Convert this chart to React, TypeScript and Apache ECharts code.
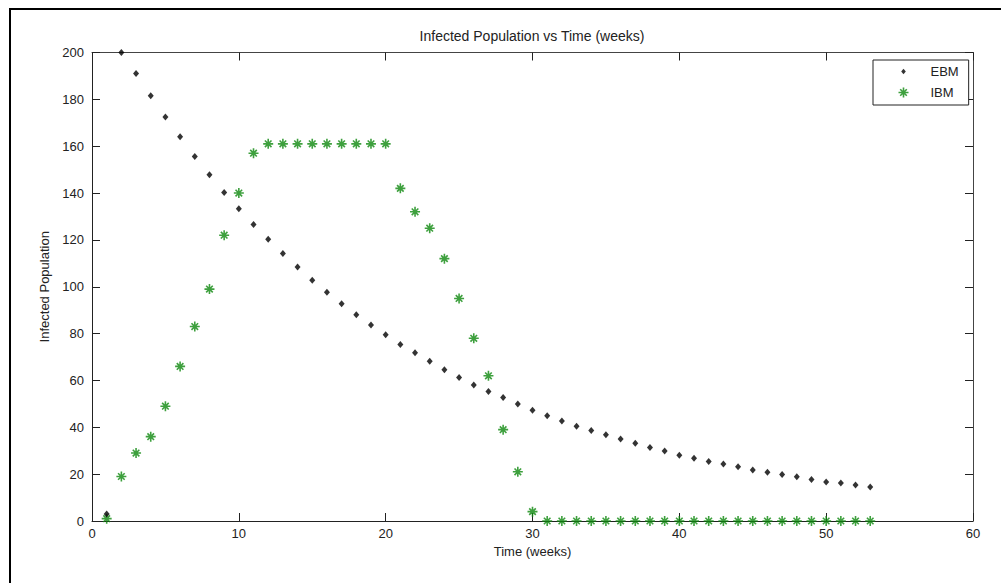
import { useEffect, useRef } from "react";
import * as echarts from "echarts";

// Weeks since the start of the outbreak
const weeks = [
  1, 2, 3, 4, 5, 6, 7, 8, 9, 10, 11, 12, 13, 14, 15, 16, 17, 18, 19, 20,
  21, 22, 23, 24, 25, 26, 27, 28, 29, 30, 31, 32, 33, 34, 35, 36, 37, 38, 39, 40,
  41, 42, 43, 44, 45, 46, 47, 48, 49, 50, 51, 52, 53,
];

// Equation-based model (EBM)
const ebmInfected = [
  3, 200, 191, 181.5, 172.5, 164, 155.6, 147.8, 140.2, 133.3,
  126.6, 120.3, 114.2, 108.4, 102.8, 97.6, 92.7, 88.1, 83.7, 79.5,
  75.4, 71.8, 68.2, 64.6, 61.3, 58.1, 55.3, 52.7, 49.9, 47.3,
  44.9, 42.7, 40.5, 38.6, 36.8, 35.0, 33.2, 31.4, 29.9, 28.1,
  26.8, 25.4, 24.3, 23.2, 21.8, 20.8, 19.9, 18.9, 17.7, 16.7,
  16.2, 15.4, 14.5,
];

// Individual-based model (IBM)
const ibmInfected = [
  1, 19, 29, 36, 49, 66, 83, 99, 122, 140,
  157, 161, 161, 161, 161, 161, 161, 161, 161, 161,
  142, 132, 125, 112, 95, 78, 62, 39, 21, 4,
  0, 0, 0, 0, 0, 0, 0, 0, 0, 0,
  0, 0, 0, 0, 0, 0, 0, 0, 0, 0,
  0, 0, 0,
];

const FONT = "'Liberation Sans', Arial, sans-serif";
const TEXT = "#222";
const GREEN = "#0e880e";

const STAR = "path://M5,0L5,10M0,5L10,5M1.7,1.7L8.3,8.3M1.7,8.3L8.3,1.7";
const DOT_ICON = "path://M0,0M10,10M5,2.3L7.3,5L5,7.7L2.7,5Z";

export default function App() {
  const ref = useRef<HTMLDivElement>(null);

  useEffect(() => {
    if (!ref.current) return;
    const chart = echarts.init(ref.current, null, { renderer: "svg" });

    const axisBase = {
      min: 0,
      splitLine: { show: false },
      axisLine: { show: true, onZero: false, lineStyle: { color: TEXT, width: 1 } },
      axisTick: { show: true, inside: true, length: 8, lineStyle: { color: TEXT } },
    };
    const frameLine = { show: true, onZero: false, lineStyle: { color: "#444", width: 1 } };

    chart.setOption({
      animation: false,
      backgroundColor: "#fff",
      title: {
        text: "Infected Population vs Time (weeks)",
        left: 532,
        top: 29,
        textAlign: "center",
        padding: 0,
        textStyle: { fontFamily: FONT, fontSize: 14, fontWeight: "normal", color: TEXT },
      },
      grid: { left: 92, right: 28, top: 52.5, bottom: 62, containLabel: false },
      legend: {
        orient: "vertical",
        left: 873,
        top: 60,
        padding: [5, 10, 5, 23],
        itemWidth: 44,
        itemHeight: 10,
        itemGap: 7,
        borderColor: TEXT,
        borderWidth: 1,
        backgroundColor: "#fff",
        textStyle: { fontFamily: FONT, fontSize: 13, color: TEXT, padding: [0, 0, 0, 0] },
        data: [
          { name: "EBM", icon: DOT_ICON, itemStyle: { color: "#000", borderWidth: 0 } },
          { name: "IBM", icon: STAR, itemStyle: { color: "none", borderColor: GREEN, borderWidth: 1.6 } },
        ],
      },
      xAxis: [
        {
          ...axisBase,
          type: "value",
          max: 60,
          interval: 10,
          position: "bottom",
          name: "Time (weeks)",
          nameLocation: "middle",
          nameGap: 24,
          nameTextStyle: { fontFamily: FONT, fontSize: 13, color: TEXT },
          axisLabel: { fontFamily: FONT, fontSize: 13, color: TEXT, margin: 6 },
        },
        {
          ...axisBase,
          type: "value",
          max: 60,
          interval: 10,
          position: "top",
          axisLine: frameLine,
          axisLabel: { show: false },
        },
      ],
      yAxis: [
        {
          ...axisBase,
          type: "value",
          max: 200,
          interval: 20,
          position: "left",
          name: "Infected Population",
          nameLocation: "middle",
          nameGap: 36,
          nameTextStyle: { fontFamily: FONT, fontSize: 13, color: TEXT },
          axisLabel: { fontFamily: FONT, fontSize: 13, color: TEXT, margin: 8 },
        },
        {
          ...axisBase,
          type: "value",
          max: 200,
          interval: 20,
          position: "right",
          axisLine: frameLine,
          axisLabel: { show: false },
        },
      ],
      graphic: [
        { type: "line", shape: { x1: 9, y1: 9, x2: 1001, y2: 9 }, style: { stroke: "#000", lineWidth: 2 } },
        { type: "line", shape: { x1: 10, y1: 9, x2: 10, y2: 583 }, style: { stroke: "#000", lineWidth: 2 } },
      ],
      series: [
        {
          name: "EBM",
          type: "scatter",
          xAxisIndex: 0,
          yAxisIndex: 0,
          symbol: "diamond",
          symbolSize: [6, 7],
          itemStyle: { color: "#000" },
          data: weeks.map((w, i) => [w, ebmInfected[i]]),
          z: 3,
        },
        {
          name: "IBM",
          type: "scatter",
          xAxisIndex: 0,
          yAxisIndex: 0,
          symbol: STAR,
          symbolSize: 10,
          itemStyle: { color: "none", borderColor: GREEN, borderWidth: 1.6 },
          data: weeks.map((w, i) => [w, ibmInfected[i]]),
          z: 2,
        },
      ],
    });

    return () => chart.dispose();
  }, []);

  return (
    <div
      ref={ref}
      style={{ position: "fixed", left: 0, top: 0, width: 1001, height: 583, background: "#fff" }}
    />
  );
}
